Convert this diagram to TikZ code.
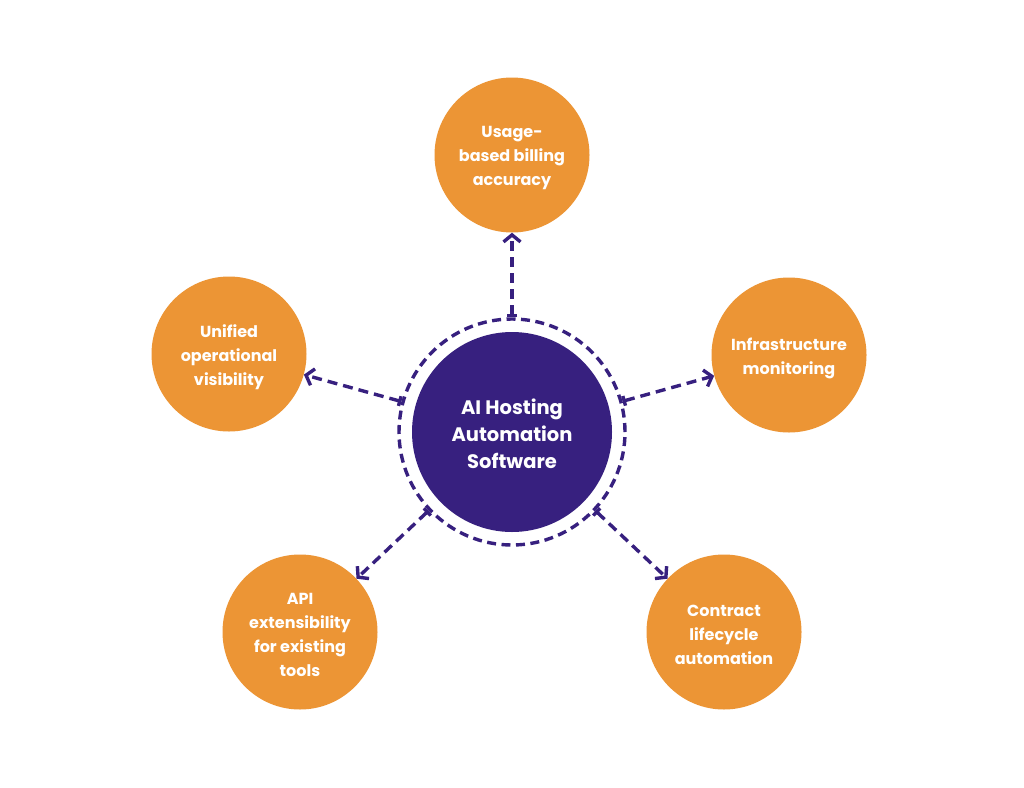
\documentclass[tikz,border=0pt]{standalone}
\usepackage{fontspec}
\setmainfont{Poppins}
\usetikzlibrary{arrows.meta}
\definecolor{hub}{HTML}{37207F}
\definecolor{leaf}{HTML}{EC9535}
\begin{document}
\begin{tikzpicture}[x=1pt,y=-1pt,
  hubnode/.style={circle,fill=hub,minimum size=200pt,inner sep=0pt,text=white,align=center,font=\bfseries\fontsize{19.5}{27}\selectfont},
  leafnode/.style={circle,fill=leaf,minimum size=155pt,inner sep=0pt,text=white,align=center,font=\bfseries\fontsize{16}{24}\selectfont},
  lbl/.style={text=white,align=center,inner sep=0pt},
  ring/.style={draw=hub,line width=3.4pt,dash pattern=on 9pt off 5.5pt},
  link/.style={draw=hub,line width=3.4pt,dash pattern=on 10pt off 6pt,
    arrows={{Bar[width=10pt,line width=3.4pt]}-{Straight Barb[length=7pt,width=17pt,line width=3.4pt]}}}
]
\useasboundingbox (0,0) rectangle (1024,787);
\fill[white] (0,0) rectangle (1024,787);
\node[hubnode] (hub) at (512,432) {};
\node[lbl,font=\bfseries\fontsize{19.5}{27}\selectfont] (hubtxt) at (512,434) {AI Hosting\\Automation\\Software};
\node[circle,minimum size=226pt,inner sep=0pt,ring] (ring) at (512,432) {};
\node[leafnode] (top) at (512,155) {};
\node[leafnode] (right) at (789,355) {};
\node[leafnode] (left) at (229,354) {};
\node[leafnode] (bl) at (300,632) {};
\node[leafnode] (br) at (724,632) {};
\node[lbl,font=\bfseries\fontsize{16}{24}\selectfont] (toptxt) at (512,158) {Usage-\\based billing\\accuracy};
\node[lbl,font=\bfseries\fontsize{16}{24}\selectfont] (righttxt) at (789,358) {Infrastructure\\monitoring};
\node[lbl,font=\bfseries\fontsize{16}{24}\selectfont] (lefttxt) at (229,357) {Unified\\operational\\visibility};
\node[lbl,font=\bfseries\fontsize{16}{24}\selectfont] (bltxt) at (300,635) {API\\extensibility\\for existing\\tools};
\node[lbl,font=\bfseries\fontsize{16}{24}\selectfont] (brtxt) at (724,635) {Contract\\lifecycle\\automation};
\foreach \t in {top,right,left,bl,br}{
  \draw[link] (ring) -- (\t);
}
\end{tikzpicture}
\end{document}
